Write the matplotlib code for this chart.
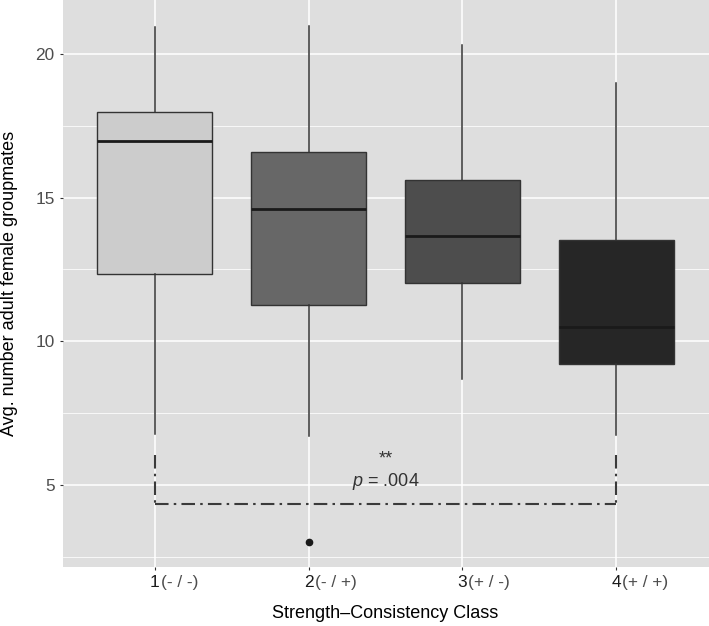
import matplotlib.pyplot as plt
from matplotlib.ticker import MultipleLocator

plt.rcParams['font.family'] = ['Liberation Sans', 'DejaVu Sans']
plt.rcParams['mathtext.fontset'] = 'custom'
plt.rcParams['mathtext.it'] = 'Liberation Sans:italic'
plt.rcParams['mathtext.rm'] = 'Liberation Sans'

# box statistics
classes = ['1', '2', '3', '4']
class_signs = ['(- / -)', '(- / +)', '(+ / -)', '(+ / +)']
whisker_low = [6.77, 6.69, 8.67, 6.75]
q1 = [12.35, 11.26, 12.02, 9.21]
median = [16.98, 14.62, 13.68, 10.51]
q3 = [17.98, 16.60, 15.61, 13.53]
whisker_high = [20.95, 20.97, 20.31, 18.99]
outliers = [[], [3.0], [], []]
box_fills = ['#cccccc', '#676767', '#4d4d4d', '#262626']

# significance bracket between class 1 and class 4
bracket_from = 1
bracket_to = 4
bracket_low = 4.35
bracket_high = 6.03
stars = '**'
p_text = r'$\it{p}$ = .004'

W, H = 709, 626
fig = plt.figure(figsize=(W / 100, H / 100), dpi=100)
left, right, top, bottom = 62.5, 708.5, 0, 566.7
ax = fig.add_axes([left / W, 1 - bottom / H, (right - left) / W, (bottom - top) / H])

positions = list(range(1, len(classes) + 1))
stats = []
for i in range(len(classes)):
    stats.append(dict(whislo=whisker_low[i], q1=q1[i], med=median[i], q3=q3[i],
                      whishi=whisker_high[i], fliers=outliers[i]))

bp = ax.bxp(stats, positions=positions, widths=0.75, patch_artist=True, showcaps=False,
            boxprops=dict(edgecolor='#333333', linewidth=1.0),
            medianprops=dict(color='#1a1a1a', linewidth=2.0, solid_capstyle='butt'),
            whiskerprops=dict(color='#333333', linewidth=1.1),
            flierprops=dict(marker='o', markerfacecolor='#1a1a1a', markeredgecolor='#1a1a1a',
                            markersize=4.5))
for patch, c in zip(bp['boxes'], box_fills):
    patch.set_facecolor(c)

ax.set_xlim(0.4, 4.6)
ax.set_ylim(2.15, 21.88)
ax.set_facecolor('#dedede')
for s in ax.spines.values():
    s.set_visible(False)
ax.yaxis.set_major_locator(MultipleLocator(5))
ax.yaxis.set_minor_locator(MultipleLocator(2.5))
ax.grid(which='major', color='white', linewidth=1.1)
ax.grid(which='minor', axis='y', color='white', linewidth=0.55)
ax.set_axisbelow(True)

ax.set_xticks(positions)
ax.set_xticklabels(classes)
ax.tick_params(which='major', length=2.2, width=0.8, color='#333333', pad=3.5,
               labelsize=12.4, labelcolor='#4d4d4d')
ax.tick_params(axis='x', labelcolor='#1a1a1a')
ax.tick_params(which='minor', length=0)

for x, sign in zip(positions, class_signs):
    ax.annotate(sign, xy=(x, 0), xycoords=('data', 'axes fraction'),
                xytext=(4.3, -5.7), textcoords='offset points',
                ha='left', va='top', fontsize=12.4, color='#4d4d4d')

# bracket
ls = (0, (6.5, 2.5, 1.2, 2.5))
kw = dict(color='#3a3a3a', linewidth=1.5, linestyle=ls, dash_capstyle='butt')
ax.plot([bracket_from, bracket_from], [bracket_high, bracket_low], **kw)
ax.plot([bracket_from, bracket_to], [bracket_low, bracket_low], **kw)
ax.plot([bracket_to, bracket_to], [bracket_high, bracket_low], **kw)
mid = (bracket_from + bracket_to) / 2
ax.text(mid, 5.9, stars, ha='center', va='center', fontsize=13, color='#333333')
ax.text(mid, 5.1, p_text, ha='center', va='center', fontsize=13, color='#333333')

fig.text(10 / W, 1 - 283 / H, 'Avg. number adult female groupmates', rotation=90,
         ha='center', va='center', fontsize=13, color='black')
fig.text(385 / W, 1 - 614 / H, 'Strength\u2013Consistency Class', ha='center', va='center',
         fontsize=13, color='black')

fig.savefig('out.png', dpi=100)
plt.close(fig)
